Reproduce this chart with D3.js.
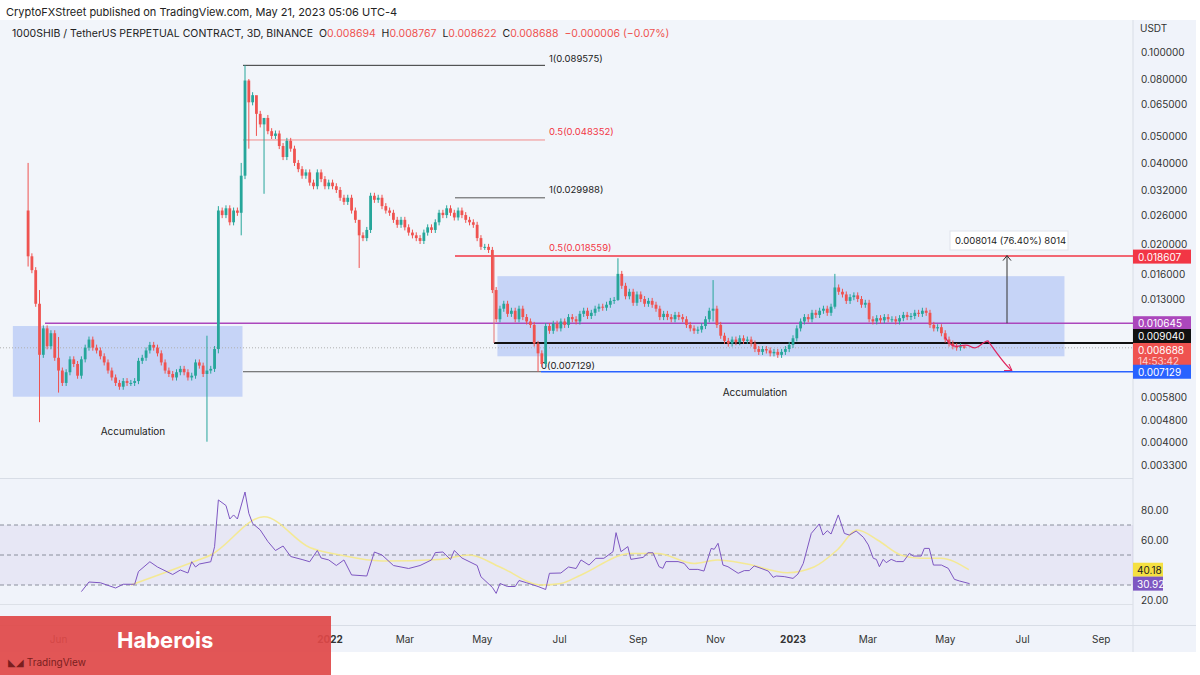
<!DOCTYPE html>
<html><head><meta charset="utf-8">
<script src="https://cdn.jsdelivr.net/npm/d3@7"></script>
<style>body{margin:0;background:#fff;font-family:Inter,"Noto Sans",sans-serif}</style>
</head><body><svg id="c" width="1200" height="675"></svg>
<script>
// ---- data (prices in thousandths of USDT) ----
const firstOpen = 27;
const closes = [
18.5,16.5,12.5,8.2,10.2,8.8,9.8,8.0,7.2,6.5,
7.1,7.9,7.6,6.9,7.9,8.7,9.3,8.7,8.5,8.1,
7.7,7.2,6.8,6.5,6.3,6.6,6.5,6.5,6.6,7.8,
8.0,8.5,8.9,8.7,8.3,7.7,7.2,7.0,6.8,7.1,
7.3,7.1,6.8,6.9,7.7,7.5,7.0,7.2,7.3,8.6,
27.0,26.0,27.5,24.5,27.0,26.5,36,79,66,70,
60,55,58,52,50,51,46,42,48,45,
40,38,36,37,34,33,37,35,33,34,
33,32,30,29,30,27,25,22,21.5,23,
30.5,29.5,30,28,27,26.5,25,24,25,23.5,
22.5,22,21.5,21,22.5,23.5,23,24.5,26.5,26,
27.5,26.5,25.5,27,26,25,24.5,24,21.5,20,
20,19.5,14,11,12,12.5,11.5,11.8,11,12,
11.2,10.8,10.5,9.0,8.3,7.6,10.4,10.0,10.6,10.2,
10.8,10.5,11.2,11.0,10.8,11.5,11.8,11.3,11.6,12.0,
12.2,12.1,12.4,12.8,12.9,16.0,14.5,13.3,13.8,12.6,
13.5,13.0,12.5,12.8,12.4,12.0,11.2,11.5,11.2,11.0,
11.4,11.2,11.0,10.5,10.2,10.0,10.1,10.4,11.0,11.8,
12.0,10.5,9.6,9.2,9.0,9.3,9.1,9.4,9.2,9.3,
9.0,8.6,8.4,8.6,8.5,8.3,8.4,8.2,8.4,8.6,
8.9,9.4,10.2,10.8,11.2,11.0,11.6,11.4,11.8,12.0,
11.6,12.2,14.3,13.8,13.5,12.8,13.2,13.4,13.0,12.4,
12.6,11.0,10.8,11.1,10.9,11.2,11.0,11.0,10.8,11.1,
11.4,11.2,11.3,11.6,11.5,11.8,11.6,10.5,10.2,10.3,
9.8,9.3,9.0,8.8,8.7,8.8,8.688];
// notable wicks: [index, high, low]
const wickNotes = [[0,40,17],[3,14,4.7],[8,9.5,6.0],[47,9.6,4.0],[50,28,8.3],[56,40,22],[57,89.6,35],
 [58,80,45],[60,62,50],[62,58,31],[87,23,16.8],[134,9.2,7.129],[155,18.2,12.8],[180,15.2,10.8],[212,16.0,12.0],[246,8.77,8.62]];
const wickPct = 0.025;
const startDate = new Date(2021,4,8);
// RSI key points: [candle index, value]
const rsiPts = [[14,25.6],[16,32],[19,31.5],[23,28],[25,30.5],[28,30.5],[29,39],[32,45.5],[34,42],[38,37],[40,40],[42,38],[43,45.5],[44,42],[45,44],[48,45.5],[49,55.5],[50,86.7],[52,83],[53,74],[54,76.7],[55,74],[57,92],[58,77.8],[59,71],[61,66.7],[63,59],[65,53],[67,56],[69,49],[72,47],[74,45.5],[76,53],[77,48],[79,46.7],[81,43],[83,46.7],[85,36.7],[89,36],[91,52],[93,50],[96,43],[98,42],[100,41],[103,43],[106,46.7],[107,51.6],[109,52],[111,47],[112,53],[114,48],[118,43],[119,35.5],[122,28.4],[123,24.4],[124,31],[126,29],[128,29],[129,33],[131,31.5],[134,29],[136,27],[137,37.8],[140,38],[142,42],[144,41],
[145.3,46.7],[147.4,43.3],[149.2,47.8],[151.3,47.8],[153.7,52.2],[154.5,64.9],[155.8,52.2],[157.6,55.6],[158.4,47.1],[161.6,48.4],[162.9,51.5],[164.2,51.5],[165.8,42.2],[166.8,41.1],[167.6,45.6],[170.8,45.6],[172.4,44.4],[173.7,40.4],[176,40.4],[177.6,39.3],[179.5,54.4],[180.3,53.8],[181.3,57.8],[182.6,43.3],[183.9,42.2],[186.6,37.8],[188.2,39.6],[189.5,39.6],[190.8,42.7],[192.6,41.1],[194.5,39.3],[195.8,35.1],[196.6,36],[198.7,35.6],[201,34.4],[202.3,37.3],[203.7,44.4],[205.8,64.4],[207.9,70.7],[208.9,63.3],[210,66.2],[211,64],[212.9,76.7],[214.5,64.4],[215.8,63.3],[217.6,66],[219.5,61.8],[220.8,56.7],[222.1,47.8],[222.9,47.1],[223.7,42.2],[224.7,47.1],[225.5,44.9],[226.8,47.1],[228.2,45.6],[230,45.6],[231.6,51.1],[232.6,49.3],[234.7,49.3],[235.5,54.4],[236.8,54.4],[237.9,43.3],[240,43.3],[241.8,41.1],[243.4,33.8],[244.7,32.7],[247.4,30.92]];
const maPts = [[27,30],[43,45],[48,50],[62,75.5],[74,55],[82,50],[93,46],[108,47],[116,50],[124,42],[135,30],[140,31],[145.3,36.7],[158.4,51],[165.4,51],[175,44.4],[181.1,46.7],[188.9,44],[199.5,38.2],[206.5,42],[212.6,53.3],[217.9,66.7],[223.2,60],[229.3,50],[234.5,47.8],[239.8,47.8],[247.2,40.18]];
const priceTicks = [0.1,0.08,0.065,0.05,0.04,0.032,0.026,0.02,0.016,0.013,0.0058,0.0048,0.004,0.0033];
const rsiTicks = [80,60,20];
const monthTicks = [[new Date(2021,5,1),"Jun"],[new Date(2022,0,1),"2022"],[new Date(2022,2,1),"Mar"],[new Date(2022,4,1),"May"],[new Date(2022,6,1),"Jul"],[new Date(2022,8,1),"Sep"],[new Date(2022,10,1),"Nov"],[new Date(2023,0,1),"2023"],[new Date(2023,2,1),"Mar"],[new Date(2023,4,1),"May"],[new Date(2023,6,1),"Jul"],[new Date(2023,8,1),"Sep"]];

// ---- scales ----
const svg = d3.select("#c");
const x = d3.scaleTime().domain([new Date(2022,0,1),new Date(2023,0,1)]).range([330,793]);
const y = d3.scaleLog().domain([0.1,0.0033]).range([52,465]);
const r = d3.scaleLinear().domain([80,20]).range([510,600]);
const dateOf = i => new Date(startDate.getTime() + 3*i*86400000);
const P = v => v/1000;

// backgrounds
svg.append("rect").attr("x",0).attr("y",20).attr("width",1196).attr("height",632).attr("fill","#f0f3fa");
svg.append("rect").attr("x",0).attr("y",20).attr("width",1133).attr("height",458).attr("fill","#f2f5fa");
svg.append("line").attr("x1",1133).attr("x2",1133).attr("y1",20).attr("y2",652).attr("stroke","#d8dde6");
svg.append("line").attr("x1",0).attr("x2",1133).attr("y1",478.5).attr("y2",478.5).attr("stroke","#d8dde6");
svg.append("line").attr("x1",0).attr("x2",1196).attr("y1",625.5).attr("y2",625.5).attr("stroke","#d8dde6");
svg.append("text").attr("x",6).attr("y",16).attr("font-size",11).attr("fill","#222").text("CryptoFXStreet published on TradingView.com, May 21, 2023 05:06 UTC-4");
const hdr = svg.append("text").attr("x",12).attr("y",37).attr("font-size",10.5).attr("fill","#222");
hdr.append("tspan").text("1000SHIB / TetherUS PERPETUAL CONTRACT, 3D, BINANCE\u00a0\u00a0O");
[["0.008694","H"],["0.008767","L"],["0.008622","C"],["0.008688\u00a0\u00a0−0.000006 (−0.07%)",""]].forEach(([v,n])=>{
  hdr.append("tspan").attr("fill","#ef5350").text(v);
  if(n) hdr.append("tspan").attr("fill","#222").text("\u00a0\u00a0"+n);
});

// boxes
const box=(d0,d1,p0,p1)=>svg.append("rect").attr("x",x(d0)).attr("y",y(p0)).attr("width",x(d1)-x(d0)).attr("height",y(p1)-y(p0)).attr("fill","#c3d2f7").attr("opacity",0.95);
box(new Date(2021,3,26),new Date(2021,9,24),0.0104,0.0058);
box(new Date(2022,4,13),new Date(2023,7,3),0.0157,0.0081);

// horizontal lines
const hl=(x0,x1,p,col,w,dash)=>svg.append("line").attr("x1",x0).attr("x2",x1).attr("y1",y(p)).attr("y2",y(p)).attr("stroke",col).attr("stroke-width",w||1).attr("stroke-dasharray",dash||null);
hl(0,1133,0.008688,"#b0b0b0",1,"1,2");
hl(243,545,0.089575,"#333");
hl(243,545,0.048352,"#f28b8b");
hl(243,541,0.007129,"#555");
hl(455,545,0.029988,"#555");
hl(455,1133,0.018559,"#f23645",1.5);
hl(541,1133,0.007129,"#2962ff",1.5);
hl(45,1133,0.010645,"#ab47bc",1.5);
hl(494,1133,0.00904,"#111",2);
svg.append("line").attr("x1",494).attr("x2",494).attr("y1",y(0.0185)).attr("y2",y(0.00904)).attr("stroke","#e57373");
const lbl=(xx,p,t,col,dy)=>svg.append("text").attr("x",xx).attr("y",y(p)+(dy||0)).attr("font-size",9.5).attr("fill",col).text(t);
lbl(549,0.089575,"1(0.089575)","#222",-3);
lbl(549,0.048352,"0.5(0.048352)","#f23645",-5);
lbl(549,0.029988,"1(0.029988)","#222",-5);
lbl(549,0.018559,"0.5(0.018559)","#f23645",-5);
lbl(541,0.007129,"0(0.007129)","#222",-3);

// candles
const opens=[firstOpen,...closes.slice(0,-1)];
const notes=new Map(wickNotes.map(d=>[d[0],d]));
const candles=closes.map((c,i)=>{const o=opens[i];const n=notes.get(i);
  return {d:dateOf(i),o:P(o),c:P(c),h:P(n?n[1]:Math.max(o,c)*(1+wickPct)),l:P(n?n[2]:Math.min(o,c)*(1-wickPct))};});
const cg=svg.append("g");
candles.forEach(k=>{const col=k.c>=k.o?"#26a69a":"#ef5350";const xx=x(k.d);
  cg.append("line").attr("x1",xx).attr("x2",xx).attr("y1",y(k.h)).attr("y2",y(k.l)).attr("stroke",col).attr("stroke-width",1);
  const t=Math.min(y(k.o),y(k.c)),b=Math.max(y(k.o),y(k.c));
  cg.append("rect").attr("x",xx-1.4).attr("width",2.8).attr("y",t).attr("height",Math.max(1,b-t)).attr("fill",col);
});

// annotations
svg.append("text").attr("x",133).attr("y",435).attr("text-anchor","middle").attr("font-size",10).attr("fill","#222").text("Accumulation");
svg.append("text").attr("x",755).attr("y",396).attr("text-anchor","middle").attr("font-size",10).attr("fill","#222").text("Accumulation");
svg.append("line").attr("x1",1007).attr("x2",1007).attr("y1",y(0.010645)).attr("y2",y(0.018607)).attr("stroke","#333");
svg.append("path").attr("d",`M1003,${y(0.018607)+5}L1007,${y(0.018607)}L1011,${y(0.018607)+5}`).attr("fill","none").attr("stroke","#333");
svg.append("rect").attr("x",950).attr("y",231).attr("width",118).attr("height",19).attr("fill","#fff").attr("stroke","#e0e3eb");
svg.append("text").attr("x",955).attr("y",244).attr("font-size",9.5).attr("fill","#222").text("0.008014 (76.40%) 8014");
svg.append("path").attr("d",`M945,${y(0.0095)} C955,${y(0.0082)} 962,${y(0.0092)} 970,${y(0.0088)} C978,${y(0.0084)} 982,${y(0.0092)} 988,${y(0.0092)} C995,${y(0.0085)} 1005,${y(0.0075)} 1012,${y(0.0072)}`).attr("fill","none").attr("stroke","#e0245e").attr("stroke-width",1.2);
svg.append("path").attr("d",`M1004,${y(0.0072)}L1012,${y(0.0072)}L1009,${y(0.0076)}`).attr("fill","none").attr("stroke","#e0245e");

// price axis
svg.append("text").attr("x",1140).attr("y",32).attr("font-size",10).attr("fill","#333").text("USDT");
priceTicks.forEach(p=>svg.append("text").attr("x",1141).attr("y",y(p)+(p===0.02?1:4)).attr("font-size",10).attr("fill","#333").text(p.toFixed(6)));
const tag=(yy,h,col,lines,tc)=>{svg.append("rect").attr("x",1133).attr("y",yy-7).attr("width",58).attr("height",h).attr("fill",col);
  lines.forEach((t,j)=>svg.append("text").attr("x",1138).attr("y",yy+4+j*11).attr("font-size",10).attr("fill",j?"#fbd0d0":(tc||"#fff")).text(t));};
tag(y(0.018607)+1,14,"#f23645",["0.018607"]);
tag(y(0.010645),14,"#ab47bc",["0.010645"]);
tag(336,14,"#111",["0.009040"]);
tag(350,24,"#ef5350",["0.008688","14:53:42"]);
tag(y(0.007129),14,"#2962ff",["0.007129"]);

// RSI pane
svg.append("rect").attr("x",0).attr("width",1133).attr("y",r(70)).attr("height",r(30)-r(70)).attr("fill","#7e57c2").attr("opacity",0.08);
[70,50,30].forEach(v=>svg.append("line").attr("x1",0).attr("x2",1133).attr("y1",r(v)).attr("y2",r(v)).attr("stroke","#8a8f9c").attr("stroke-dasharray","4,3"));
svg.append("line").attr("x1",0).attr("x2",1133).attr("y1",604.5).attr("y2",604.5).attr("stroke","#dde1e8");
const lineGen=d3.line().x(d=>x(dateOf(d[0]))).y(d=>r(d[1]));
svg.append("path").attr("d",d3.line().curve(d3.curveMonotoneX).x(d=>x(dateOf(d[0]))).y(d=>r(d[1]))(maPts)).attr("fill","none").attr("stroke","#f5e98a").attr("stroke-width",1.5).attr("opacity",0.9);
svg.append("path").attr("d",lineGen(rsiPts)).attr("fill","none").attr("stroke","#7e57c2").attr("stroke-width",1);
rsiTicks.forEach(v=>svg.append("text").attr("x",1141).attr("y",r(v)+4).attr("font-size",10).attr("fill","#333").text(v.toFixed(2)));
svg.append("rect").attr("x",1133).attr("y",r(40.18)-7).attr("width",30).attr("height",14).attr("fill","#f5e042");
svg.append("text").attr("x",1137).attr("y",r(40.18)+4).attr("font-size",10).attr("fill","#222").text("40.18");
svg.append("rect").attr("x",1133).attr("y",r(30.92)-7).attr("width",30).attr("height",14).attr("fill","#7e57c2");
svg.append("text").attr("x",1137).attr("y",r(30.92)+4).attr("font-size",10).attr("fill","#fff").text("30.92");

// time axis
monthTicks.forEach(([d,t])=>svg.append("text").attr("x",x(d)).attr("y",643).attr("text-anchor","middle").attr("font-size",10).attr("font-weight",/^\d/.test(t)?"bold":"normal").attr("fill","#333").text(t));

// banner
svg.append("rect").attr("x",0).attr("y",616).attr("width",331).attr("height",59).attr("fill","#e04848").attr("opacity",0.92);
svg.append("text").attr("x",117).attr("y",648).attr("font-size",22).attr("font-weight","bold").attr("fill","#fff").attr("font-family","Inter,sans-serif").text("Haberois");
svg.append("text").attr("x",8).attr("y",666).attr("font-size",10).attr("fill","#7a1e1e").text("◣◢ TradingView");
</script></body></html>
